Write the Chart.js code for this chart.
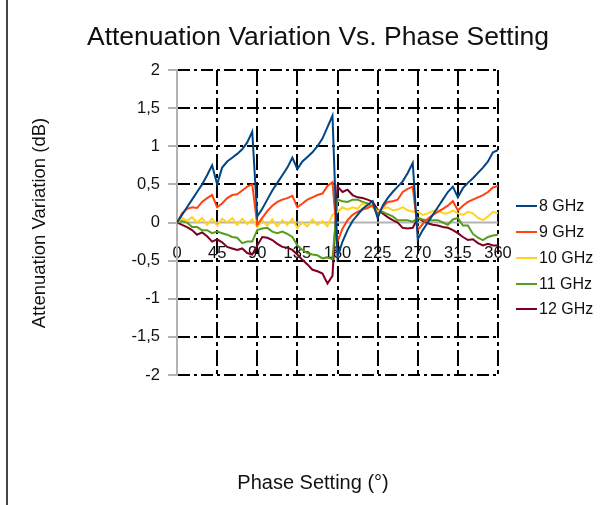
<!DOCTYPE html>
<html>
<head>
<meta charset="utf-8">
<script src="https://cdn.jsdelivr.net/npm/chart.js@4/dist/chart.umd.min.js"></script>
<style>
  html, body { margin: 0; padding: 0; background: #fff; }
  canvas { display: block; }
</style>
</head>
<body>
<canvas id="chart" width="613" height="505"></canvas>
<script>
// Phase settings (deg), one point every 5.625 deg
const phase = [0, 5.625, 11.25, 16.875, 22.5, 28.125, 33.75, 39.375, 45, 50.625, 56.25, 61.875, 67.5, 73.125, 78.75, 84.375,
  90, 95.625, 101.25, 106.875, 112.5, 118.125, 123.75, 129.375, 135, 140.625, 146.25, 151.875, 157.5, 163.125, 168.75, 174.375,
  180, 185.625, 191.25, 196.875, 202.5, 208.125, 213.75, 219.375, 225, 230.625, 236.25, 241.875, 247.5, 253.125, 258.75, 264.375,
  270, 275.625, 281.25, 286.875, 292.5, 298.125, 303.75, 309.375, 315, 320.625, 326.25, 331.875, 337.5, 343.125, 348.75, 354.375, 360];

const labels = ["8 GHz", "9 GHz", "10 GHz", "11 GHz", "12 GHz"];
const colors = ["#004586", "#ff420e", "#ffd320", "#579d1c", "#7e0021"];

const ghz8 = [0, 0.1, 0.2, 0.3, 0.4, 0.5, 0.62, 0.75, 0.5, 0.72, 0.8, 0.85, 0.9, 0.96, 1.05, 1.19,
  0.08, 0.18, 0.3, 0.42, 0.52, 0.62, 0.72, 0.85, 0.7, 0.8, 0.86, 0.92, 1.0, 1.1, 1.25, 1.4,
  -0.45, -0.25, -0.1, 0.02, 0.1, 0.18, 0.23, 0.28, 0.06, 0.22, 0.32, 0.4, 0.47, 0.54, 0.65, 0.78,
  -0.22, -0.1, 0.0, 0.1, 0.2, 0.3, 0.4, 0.47, 0.33, 0.45, 0.52, 0.58, 0.65, 0.72, 0.8, 0.92, 0.95];

const ghz9 = [0, 0.12, 0.18, 0.2, 0.19, 0.27, 0.32, 0.36, 0.2, 0.25, 0.32, 0.36, 0.37, 0.42, 0.47, 0.5,
  -0.03, 0.06, 0.15, 0.22, 0.27, 0.3, 0.32, 0.35, 0.2, 0.25, 0.3, 0.33, 0.36, 0.38, 0.48, 0.53,
  -0.25, -0.08, 0.03, 0.1, 0.14, 0.17, 0.19, 0.23, 0.1, 0.2, 0.27, 0.28, 0.3, 0.4, 0.44, 0.47,
  -0.1, -0.02, 0.05, 0.1, 0.14, 0.18, 0.22, 0.28, 0.16, 0.22, 0.27, 0.3, 0.33, 0.36, 0.4, 0.46, 0.48];

const ghz10 = [0, 0.06, 0.02, 0.07, 0.0, 0.06, -0.03, 0.05, -0.04, 0.05, 0.0, 0.06, -0.03, 0.05, -0.02, 0.04,
  -0.06, 0.03, -0.04, 0.04, -0.05, 0.03, -0.03, 0.05, -0.07, 0.0, -0.05, 0.04, -0.03, 0.02, -0.05, 0.1,
  0.14, 0.2, 0.17, 0.2, 0.18, 0.25, 0.22, 0.2, 0.14, 0.18, 0.2, 0.16, 0.17, 0.2, 0.16, 0.14,
  0.14, 0.1, 0.12, 0.15, 0.16, 0.12, 0.12, 0.16, 0.12, 0.1, 0.14, 0.12, 0.06, 0.03, 0.08, 0.14, 0.12];

const ghz11 = [0, 0.02, 0.0, -0.06, -0.06, -0.1, -0.1, -0.14, -0.12, -0.14, -0.16, -0.19, -0.2, -0.27, -0.25, -0.25,
  -0.1, -0.08, -0.07, -0.12, -0.14, -0.12, -0.15, -0.19, -0.3, -0.36, -0.4, -0.42, -0.43, -0.47, -0.46, -0.48,
  0.3, 0.28, 0.27, 0.3, 0.3, 0.27, 0.25, 0.2, 0.17, 0.14, 0.11, 0.08, 0.03, 0.03, 0.03, 0.01,
  0.06, 0.04, 0.03, 0.03, 0.03, 0.0, -0.03, 0.04, 0.06, -0.04, -0.04, -0.15, -0.2, -0.23, -0.19, -0.17, -0.16];

const ghz12 = [0, -0.03, -0.06, -0.1, -0.16, -0.13, -0.18, -0.25, -0.22, -0.26, -0.32, -0.34, -0.36, -0.34, -0.4, -0.42,
  -0.3, -0.19, -0.2, -0.23, -0.28, -0.32, -0.33, -0.36, -0.42, -0.49, -0.55, -0.62, -0.64, -0.67, -0.8, -0.7,
  0.47, 0.4, 0.43, 0.36, 0.33, 0.32, 0.3, 0.27, 0.17, 0.12, 0.07, 0.03, 0.0, -0.07, -0.08, -0.07,
  0.06, 0.02, -0.01, -0.03, -0.04, -0.06, -0.07, -0.1, -0.14, -0.19, -0.23, -0.22, -0.27, -0.3, -0.28, -0.3, -0.3];

const series = [ghz8, ghz9, ghz10, ghz11, ghz12];

const FONT = "'Liberation Sans', Arial, sans-serif";
const GREY = "#b3b3b3";

// titles, legend, zero line and frame
const decor = {
  id: "decor",
  beforeDatasetsDraw(chart) {
    const ctx = chart.ctx, area = chart.chartArea;
    const y0 = chart.scales.y.getPixelForValue(0);
    ctx.save();
    ctx.strokeStyle = GREY;
    ctx.lineWidth = 2;
    ctx.beginPath();
    ctx.moveTo(area.left, y0);
    ctx.lineTo(area.right, y0);
    ctx.stroke();
    ctx.restore();
  },
  afterDraw(chart) {
    const ctx = chart.ctx;
    ctx.save();
    ctx.fillStyle = "#111";

    ctx.font = "26.5px " + FONT;
    ctx.textAlign = "center";
    ctx.textBaseline = "middle";
    ctx.fillText("Attenuation Variation Vs. Phase Setting", 318, 38);

    ctx.font = "20px " + FONT;
    ctx.fillText("Phase Setting (°)", 313, 483);

    ctx.save();
    ctx.translate(40, 223);
    ctx.rotate(-Math.PI / 2);
    ctx.font = "18.5px " + FONT;
    ctx.fillText("Attenuation Variation (dB)", 0, 0);
    ctx.restore();

    // legend
    ctx.font = "16px " + FONT;
    ctx.textAlign = "left";
    const rows = [206, 232, 258, 284, 309];
    chart.data.datasets.forEach((ds, i) => {
      ctx.strokeStyle = ds.borderColor;
      ctx.lineWidth = 2;
      ctx.beginPath();
      ctx.moveTo(516, rows[i]);
      ctx.lineTo(537, rows[i]);
      ctx.stroke();
      ctx.fillStyle = "#111";
      ctx.fillText(ds.label, 539, rows[i] + 1);
    });

    // frame line on the left
    ctx.strokeStyle = "#444";
    ctx.lineWidth = 2;
    ctx.beginPath();
    ctx.moveTo(7, 0);
    ctx.lineTo(7, 505);
    ctx.stroke();
    ctx.restore();
  }
};

const ctx = document.getElementById("chart").getContext("2d");
const chart = new Chart(ctx, {
  type: "line",
  data: {
    datasets: series.map((vals, i) => ({
      label: labels[i],
      data: vals.map((v, j) => ({ x: phase[j], y: v })),
      borderColor: colors[i],
      backgroundColor: colors[i],
      borderWidth: 2,
      pointRadius: 0,
      tension: 0,
      fill: false
    }))
  },
  options: {
    responsive: false,
    animation: false,
    layout: { padding: { left: 0, top: 70, right: 115, bottom: 130 } },
    plugins: {
      legend: { display: false },
      tooltip: { enabled: false },
      title: { display: false }
    },
    scales: {
      x: {
        type: "linear",
        position: { y: 0 },
        min: 0,
        max: 360,
        ticks: {
          stepSize: 45,
          autoSkip: false,
          maxRotation: 0,
          padding: 21,
          color: "#111",
          font: { family: FONT, size: 16.5 }
        },
        grid: {
          color: c => (c.tick && c.tick.value === 0) ? "rgba(0,0,0,0)" : "#000",
          lineWidth: 2,
          drawTicks: false
        },
        border: { display: false, dash: [16, 4, 4, 4] }
      },
      y: {
        min: -2,
        max: 2,
        afterFit: s => { s.width = 177; },
        ticks: {
          stepSize: 0.5,
          padding: 8,
          color: "#111",
          font: { family: FONT, size: 16.5 },
          callback: v => String(v).replace(".", ",")
        },
        grid: {
          color: c => (c.tick && c.tick.value === 0) ? "rgba(0,0,0,0)" : "#000",
          lineWidth: 2,
          tickColor: GREY,
          tickWidth: 2,
          tickLength: 9
        },
        border: { display: true, color: GREY, width: 2, dash: [12, 4, 3, 4] }
      }
    }
  },
  plugins: [decor]
});
</script>
</body>
</html>
